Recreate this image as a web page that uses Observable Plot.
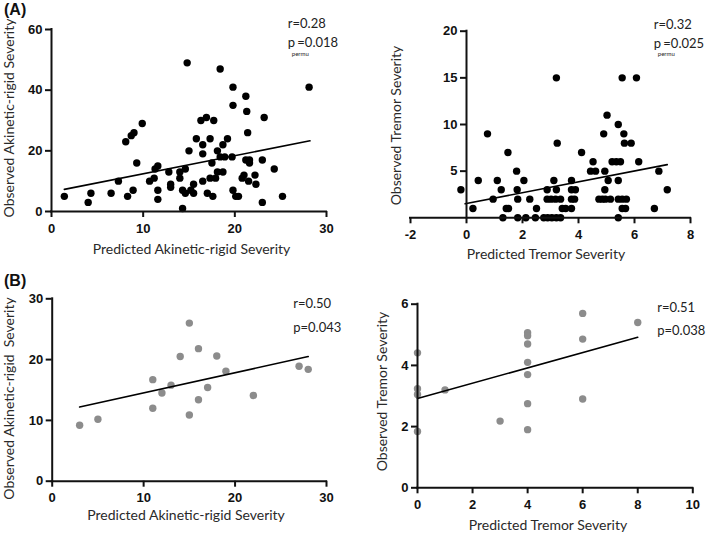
<!DOCTYPE html>
<html>
<head>
<meta charset="utf-8">
<script src="https://cdn.jsdelivr.net/npm/d3@7"></script>
<script src="https://cdn.jsdelivr.net/npm/@observablehq/plot@0.6"></script>
<style>
  body { margin: 0; background: #fff; }
  #root { position: relative; width: 709px; height: 534px; overflow: hidden; background: #fff; }
  .panel { position: absolute; }
  .tag { position: absolute; left: 4px; font: bold 16px "Liberation Sans", Arial, sans-serif; color: #111; line-height: 19px; }
</style>
</head>
<body>
<div id="root"></div>
<script>
// ---------- Panel A, left: Akinetic-rigid (training cohort) ----------
const akA_pred = [1.4,4.0,4.3,6.5,7.3,8.3,8.9,8.1,8.7,9.0,9.9,9.3,10.7,11.2,11.3,11.6,11.6,11.6,12.8,13.0,13.0,14.0,14.0,14.3,14.3,14.6,14.6,14.8,15.0,15.2,15.5,15.5,15.8,16.3,16.9,17.7,16.5,16.5,16.5,17.0,17.3,17.3,17.5,17.6,17.9,18.1,18.1,18.4,18.7,18.7,18.4,18.9,19.2,19.7,19.8,19.8,19.8,20.1,20.4,20.8,21.0,21.2,21.3,21.4,21.2,21.6,21.6,21.5,22.2,22.3,23.0,23.2,23.0,24.3,25.2,28.1];
const akA_obs  = [5,3,6,6,10,5,7,23,25,26,29,16,10,11,14,15,7,4,13,9,8,13,11,1,7,6,14,49,20,7,9,6,24,30,31,30,22,19,10,6,24,11,16,5,11,13,20,47,22,13,18,18,24,18,41,35,7,5,5,11,12,38,33,26,17,17,16,10,12,9,17,31,3,14,5,41];
const akA_fitX = [1.4, 28.2];
const akA_fitY = [7.3, 23.3];

// ---------- Panel A, right: Tremor (training cohort) ----------
const trA_pred = [-0.2,0.23,0.42,0.75,0.95,1.1,1.24,1.3,1.42,1.5,1.48,1.79,1.81,1.83,1.83,2.05,2.12,2.26,2.46,2.5,2.76,2.9,3.05,3.21,3.36,2.88,3.12,3.21,2.88,3.02,3.18,3.36,3.21,3.24,3.42,3.54,3.75,3.75,3.89,3.75,3.86,3.75,4.11,4.52,4.43,4.61,4.9,4.94,4.94,4.73,4.85,4.96,5.02,5.06,5.2,5.35,5.5,5.42,5.42,5.14,5.42,5.56,5.71,5.56,5.68,5.42,5.56,5.62,5.64,5.88,6.07,6.15,6.71,6.87,7.17];
const trA_obs  = [3,1,4,9,2,4,3,0,1,1,7,5,3,2,0,4,0,2,0,1,0,0,0,0,0,3,4,3,2,2,2,2,15,8,1,1,4,3,3,2,2,1,7,6,5,5,9,5,3,2,2,2,11,4,6,6,6,10,4,2,2,2,2,1,1,0,15,9,8,8,15,6,1,5,3];
const trA_fitX = [-0.05, 7.17];
const trA_fitY = [1.5, 5.7];

// ---------- Panel B, left: Akinetic-rigid (validation cohort) ----------
const akB_pred = [3,5,11,11,12,13,14,15,15,16,16,17,18,19,22,27,28];
const akB_obs  = [9.2,10.2,16.7,12,14.5,15.8,20.5,26,10.9,21.8,13.4,15.4,20.6,18.1,14.1,18.9,18.4];
const akB_fitX = [3, 28];
const akB_fitY = [12.2, 20.5];

// ---------- Panel B, right: Tremor (validation cohort) ----------
const trB_pred = [0,0,0,0,1,3,4,4,4,4,4,4,4,6,6,6,8];
const trB_obs  = [4.41,3.24,3.05,1.84,3.2,2.18,5.07,4.97,4.7,4.1,3.7,2.75,1.9,5.7,4.86,2.9,5.4];
const trB_fitX = [0, 8];
const trB_fitY = [2.92, 4.92];

// ---------- ticks, labels, statistics ----------
const akA_xTicks = [0,10,20,30];
const akA_yTicks = [0,20,40,60];
const trA_xTicks = [-2,0,2,4,6,8];
const trA_yTicks = [5,10,15,20];
const akB_xTicks = [0,10,20,30];
const akB_yTicks = [0,10,20,30];
const trB_xTicks = [0,2,4,6,8,10];
const trB_yTicks = [0,2,4,6];

const panelTags = ["(A)", "(B)"];
const xLabels = ["Predicted Akinetic-rigid Severity", "Predicted Tremor Severity", "Predicted Akinetic-rigid Severity", "Predicted Tremor Severity"];
const yLabels = ["Observed Akinetic-rigid Severity", "Observed Tremor Severity", "Observed Akinetic-rigid\u00a0 Severity", "Observed Tremor Severity"];
const statR = ["r=0.28", "r=0.32", "r=0.50", "r=0.51"];
const statP = ["=0.018", "=0.025", "p=0.043", "p=0.038"];
const statSub = ["permu", "permu", "", ""];

const TICK_FONT = '"Liberation Sans", Arial, sans-serif';
const TITLE_FONT = 'Lato, "Open Sans", sans-serif';

function panel(c) {
  const pts = c.px.map((x, i) => ({x, y: c.py[i]}));
  const fit = c.fx.map((x, i) => ({x, y: c.fy[i]}));
  const [x0, x1] = c.xDomain;
  const [y0, y1] = c.yDomain;
  const tickStyle = {fontFamily: TICK_FONT, fontWeight: "bold", fontSize: 13, fill: "#111", lineAnchor: "middle"};
  const titleStyle = {fontFamily: TITLE_FONT, fontSize: c.titleSize, fill: "#2a2a2a", lineAnchor: "middle", textAnchor: "middle"};
  const statStyle = {fontFamily: TITLE_FONT, fontSize: 13, fill: "#222", lineAnchor: "middle", textAnchor: "start", frameAnchor: "top-right"};
  const marks = [
    Plot.dot(pts, {x: "x", y: "y", r: 3.7, fill: c.color, stroke: "none"}),
    Plot.line(fit, {x: "x", y: "y", stroke: "#000", strokeWidth: 1.6}),
    Plot.ruleY([y0], {x1: x0, x2: x1, stroke: "#111", strokeWidth: 2, strokeLinecap: "square"}),
    Plot.ruleX([c.yAxisAt], {y1: y0, y2: y1, stroke: "#111", strokeWidth: 2, strokeLinecap: "square"}),
    Plot.ruleX(c.xTicks, {x: d => d, y1: y0, y2: y0, insetBottom: -6, stroke: "#111", strokeWidth: 2}),
    Plot.ruleY(c.yTicks, {y: d => d, x1: c.yAxisAt, x2: c.yAxisAt, insetLeft: -6, stroke: "#111", strokeWidth: 2}),
    Plot.text(c.xTicks, {x: d => d, y: y0, text: d => String(d), dy: 17, ...tickStyle}),
    Plot.text(c.yTicks, {x: c.yAxisAt, y: d => d, text: d => String(d), dx: -9, textAnchor: "end", ...tickStyle}),
    Plot.text([c.xLabel], {text: d => d, frameAnchor: "bottom", dx: c.xlDx, dy: c.xlDy, ...titleStyle}),
    Plot.text([c.yLabel], {text: d => d, frameAnchor: "left", rotate: -90, dx: c.ylDx, dy: c.ylDy, ...titleStyle}),
    Plot.text([c.r], {text: d => d, dx: c.sDx, dy: c.sDy1, ...statStyle})
  ];
  if (c.sub) {
    marks.push(
      Plot.text(["p"], {text: d => d, dx: c.sDx, dy: c.sDy2, ...statStyle}),
      Plot.text([c.sub], {text: d => d, dx: c.sDx + 4, dy: c.sDy2 + 10.5, ...statStyle, fontSize: 6}),
      Plot.text([c.p], {text: d => d, dx: c.sDx + 9.5, dy: c.sDy2, ...statStyle})
    );
  } else {
    marks.push(Plot.text([c.p], {text: d => d, dx: c.sDx, dy: c.sDy2, ...statStyle}));
  }
  return Plot.plot({
    width: c.w, height: c.h,
    marginLeft: c.ml, marginRight: c.mr, marginTop: c.mt, marginBottom: c.mb,
    x: {domain: c.xDomain, axis: null},
    y: {domain: c.yDomain, axis: null},
    style: {background: "transparent", overflow: "visible"},
    marks
  });
}

const configs = [
  {left: 0, top: 0, w: 354, h: 265, ml: 51, mr: 28, mt: 29, mb: 54,
   px: akA_pred, py: akA_obs, fx: akA_fitX, fy: akA_fitY, color: "#000",
   xDomain: [0, 30], yDomain: [0, 60], yAxisAt: 0, xTicks: akA_xTicks, yTicks: akA_yTicks,
   xLabel: xLabels[0], yLabel: yLabels[0], titleSize: 14, xlDx: 2.5, xlDy: 38, ylDx: -42, ylDy: -2.5,
   r: statR[0], p: statP[0], sub: statSub[0], sDx: -38.7, sDy1: -5.7, sDy2: 13.7},
  {left: 355, top: 0, w: 354, h: 265, ml: 55, mr: 19, mt: 30.7, mb: 47.7,
   px: trA_pred, py: trA_obs, fx: trA_fitX, fy: trA_fitY, color: "#000",
   xDomain: [-2, 8], yDomain: [0, 20], yAxisAt: 0, xTicks: trA_xTicks, yTicks: trA_yTicks,
   xLabel: xLabels[1], yLabel: yLabels[1], titleSize: 14, xlDx: -4.5, xlDy: 36.7, ylDx: -14.3, ylDy: 1,
   r: statR[1], p: statP[1], sub: statSub[1], sDx: -36.7, sDy1: -6.5, sDy2: 12.6},
  {left: 0, top: 265, w: 354, h: 269, ml: 51.7, mr: 28, mt: 33.3, mb: 53.3,
   px: akB_pred, py: akB_obs, fx: akB_fitX, fy: akB_fitY, color: "#8c8c8c",
   xDomain: [0, 30], yDomain: [0, 30], yAxisAt: 0, xTicks: akB_xTicks, yTicks: akB_yTicks,
   xLabel: xLabels[2], yLabel: yLabels[2], titleSize: 14, xlDx: -3.3, xlDy: 34.3, ylDx: -42.4, ylDy: 8.5,
   r: statR[2], p: statP[2], sub: statSub[2], sDx: -33.3, sDy1: 5.4, sDy2: 29},
  {left: 355, top: 265, w: 354, h: 269, ml: 62, mr: 16.7, mt: 38.7, mb: 46.7,
   px: trB_pred, py: trB_obs, fx: trB_fitX, fy: trB_fitY, color: "#8c8c8c",
   xDomain: [0, 10], yDomain: [0, 6], yAxisAt: 0, xTicks: trB_xTicks, yTicks: trB_yTicks,
   xLabel: xLabels[3], yLabel: yLabels[3], titleSize: 14, xlDx: -7.2, xlDy: 37.7, ylDx: -34.7, ylDy: -4.5,
   r: statR[3], p: statP[3], sub: statSub[3], sDx: -35.6, sDy1: 3.6, sDy2: 27}
];

const root = document.getElementById("root");
for (const c of configs) {
  const div = document.createElement("div");
  div.className = "panel";
  div.style.left = c.left + "px";
  div.style.top = c.top + "px";
  div.style.width = c.w + "px";
  div.style.height = c.h + "px";
  div.appendChild(panel(c));
  root.appendChild(div);
}
const tagTops = [0, 270.5];
panelTags.forEach((t, i) => {
  const d = document.createElement("div");
  d.className = "tag";
  d.style.top = tagTops[i] + "px";
  d.textContent = t;
  root.appendChild(d);
});
</script>
</body>
</html>
